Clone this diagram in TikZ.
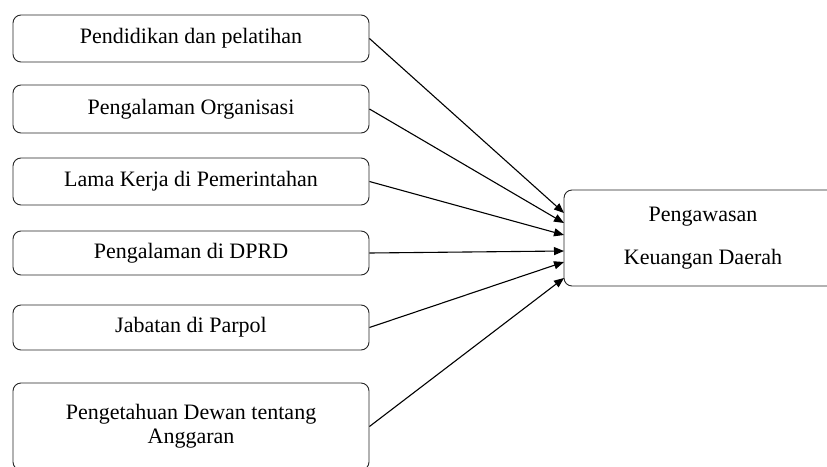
\documentclass[tikz,border=0pt]{standalone}
\usepackage{fontspec}
\setmainfont{Liberation Serif}
\usetikzlibrary{arrows.meta}
\begin{document}
\begin{tikzpicture}[x=1pt,y=-1pt,
  box/.style={draw=black!85, line width=0.9pt, rounded corners=8pt, minimum width=356pt, inner sep=0pt, align=center, font=\fontsize{22}{24}\selectfont},
  link/.style={draw=black, line width=1.1pt, -{Triangle[length=10pt,width=8pt]}}]
\useasboundingbox (0,0) rectangle (827,466);
\clip (0,0) rectangle (827,466);
\node[box, minimum height=47pt] (b1) at (191,38.5) {Pendidikan dan pelatihan};
\node[box, minimum height=48pt] (b2) at (191,109) {Pengalaman Organisasi};
\node[box, minimum height=47pt] (b3) at (191,181.5) {Lama Kerja di Pemerintahan};
\node[box, minimum height=44pt] (b4) at (191,253) {Pengalaman di DPRD};
\node[box, minimum height=45pt] (b5) at (191,327.5) {Jabatan di Parpol};
\node[box, minimum height=87pt] (b6) at (191,426.5) {Pengetahuan Dewan tentang\\Anggaran};
\node[box, minimum width=278pt, minimum height=96pt, font=\fontsize{22}{43}\selectfont] (r) at (703,238) {Pengawasan\\Keuangan Daerah};
\coordinate (e1) at (564,213);
\coordinate (e2) at (564,223);
\coordinate (e3) at (564,235);
\coordinate (e4) at (564,251);
\coordinate (e5) at (564,262);
\coordinate (e6) at (564,278);
\draw[link] (b1.east) -- (e1);
\draw[link] (b2.east) -- (e2);
\draw[link] (b3.east) -- (e3);
\draw[link] (b4.east) -- (e4);
\draw[link] (b5.east) -- (e5);
\draw[link] (b6.east) -- (e6);
\end{tikzpicture}
\end{document}
